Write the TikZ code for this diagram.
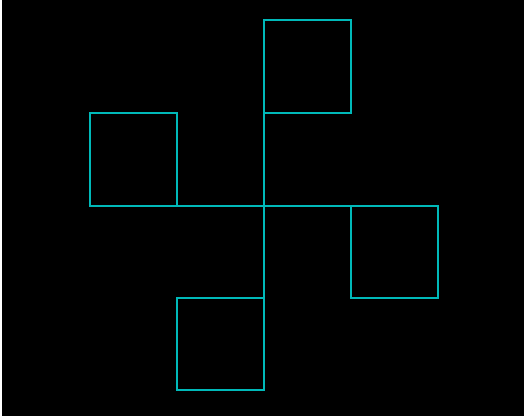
\documentclass[tikz,border=0pt]{standalone}
\usepackage{tikz}
\usetikzlibrary{calc}
\definecolor{teal}{RGB}{0,185,185}

\begin{document}
\begin{tikzpicture}[
  x=1pt, y=-1pt,
  arm/.style={draw=teal, line width=1.8pt, line cap=rect},
]
\useasboundingbox (0,0) rectangle (524,416);
\fill[white] (0,0) rectangle (524,416);
\fill[black] (2,0) rectangle (524,416);

\coordinate (c) at (264,206);

% cross
\draw[arm] (90,206) -- (438,206);
\draw[arm] (264,20) -- (264,390);

% squares on the arms
\draw[arm] (264,113) rectangle (351,20);
\draw[arm] (90,206) rectangle (177,113);
\draw[arm] (351,206) rectangle (438,298);
\draw[arm] (177,298) rectangle (264,390);
\end{tikzpicture}
\end{document}
